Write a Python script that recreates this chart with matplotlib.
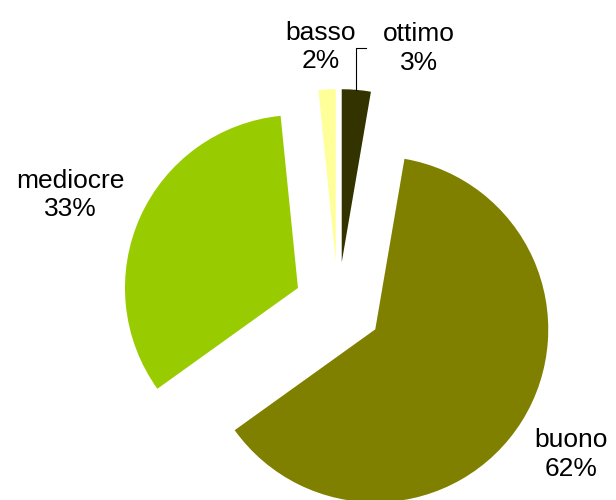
import numpy as np
import matplotlib.pyplot as plt

plt.rcParams['font.family'] = ['Liberation Sans', 'DejaVu Sans']

# data (clockwise from 12 o'clock)
categories = ['ottimo', 'buono', 'mediocre', 'basso']
values = [2.7, 62.4, 33.3, 1.6]
colors = ['#333300', '#808000', '#99CC00', '#FFFF99']
explode = [0.254, 0.254, 0.254, 0.254]

# label positions (relative to pie centre, radius = 1)
label_pos = [(0.468, 1.49), (1.347, -0.86), (-1.549, 0.642), (-0.098, 1.497)]

fig = plt.figure(figsize=(6.16, 5), dpi=100)
ax = fig.add_axes([0, 0, 1, 1])

wedges, _ = ax.pie(values, colors=colors, explode=explode, startangle=90,
                   counterclock=False, radius=1,
                   wedgeprops=dict(linewidth=0))

total = sum(values)
for cat, v, (lx, ly) in zip(categories, values, label_pos):
    ax.text(lx, ly, f'{cat}\n{v / total * 100:.0f}%', ha='center', va='center',
            fontsize=19, linespacing=1.25, color='black')

# leader line for "ottimo"
w = wedges[0]
mid = np.deg2rad((w.theta1 + w.theta2) / 2)
cx, cy = w.center
px, py = cx + w.r * np.cos(mid), cy + w.r * np.sin(mid)
ax.plot([px, px, px + 0.055], [py, 1.49, 1.49], color='black', lw=0.8)

ax.set_aspect('auto')
ax.set_xlim(-1.954, 1.607)
ax.set_ylim(-1.121, 1.769)
ax.axis('off')

plt.savefig('out.png', dpi=100)
